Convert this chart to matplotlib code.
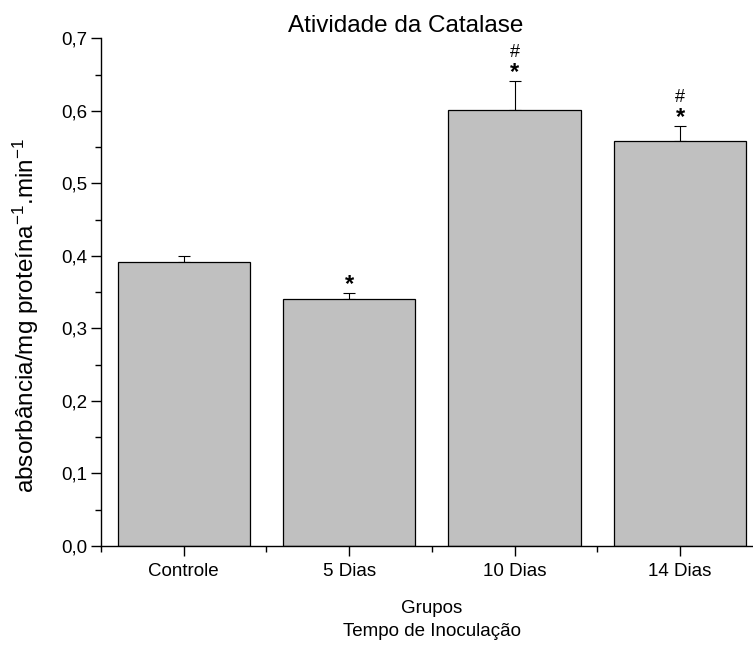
import numpy as np
import matplotlib
matplotlib.use('Agg')
import matplotlib.pyplot as plt
from matplotlib.ticker import MultipleLocator, FixedLocator

plt.rcParams['font.family'] = ['Liberation Sans', 'DejaVu Sans']
plt.rcParams['mathtext.fontset'] = 'custom'
plt.rcParams['mathtext.rm'] = 'Liberation Sans'
plt.rcParams['mathtext.it'] = 'Liberation Sans'

groups = ['Controle', '5 Dias', '10 Dias', '14 Dias']
means = [0.392, 0.341, 0.601, 0.559]
errors = [0.008, 0.008, 0.040, 0.020]
stars = ['', '*', '*', '*']
hashes = ['', '', '#', '#']

fig = plt.figure(figsize=(7.53, 6.46), dpi=100)
# axes run past the right edge, as in the original (cropped) figure
ax = fig.add_axes([0.1341, 0.1548, 0.879, 0.786])

x = np.arange(1, len(groups) + 1)
ax.bar(x, means, width=0.8, color='#c0c0c0', edgecolor='black', linewidth=0.9, zorder=2)
ax.errorbar(x, means, yerr=[np.zeros(len(errors)), errors], fmt='none', ecolor='black',
            elinewidth=0.8, capsize=4.2, capthick=0.8, zorder=1)

for xi, m, e, s, h in zip(x, means, errors, stars, hashes):
    if s:
        ax.annotate(s, xy=(xi, m + e), xytext=(0, 1.5), textcoords='offset points',
                    ha='center', va='baseline', fontsize=17, fontweight='bold')
    if h:
        ax.annotate(h, xy=(xi, m + e), xytext=(0, 17), textcoords='offset points',
                    ha='center', va='baseline', fontsize=13)

ax.set_xlim(0.5, 4.5)
ax.set_ylim(0, 0.7)
ax.set_xticks(x)
ax.set_xticklabels(groups, fontsize=13.5)
ax.xaxis.set_minor_locator(FixedLocator([0.5, 1.5, 2.5, 3.5, 4.5]))
ax.yaxis.set_minor_locator(MultipleLocator(0.05))
yticks = np.arange(0, 0.71, 0.1)
ax.set_yticks(yticks)
ax.set_yticklabels([f'{v:.1f}'.replace('.', ',') for v in yticks], fontsize=13.5)

ax.tick_params(which='major', direction='out', length=7, width=1, pad=3)
ax.tick_params(which='minor', direction='out', length=4, width=1)
ax.tick_params(axis='x', which='major', pad=5)

for side in ['top', 'right']:
    ax.spines[side].set_visible(False)
for side in ['left', 'bottom']:
    ax.spines[side].set_linewidth(1.0)

ax.set_xlabel('Grupos\nTempo de Inoculação', fontsize=13.5, linespacing=1.45, labelpad=15)
ax.set_ylabel('absorbância/mg proteína$^{-1}$.min$^{-1}$', fontsize=17.5, va='center')
ax.yaxis.set_label_coords(-0.113, 0.455)

fig.text(406 / 753, 1 - 32 / 646, 'Atividade da Catalase', ha='center', va='baseline', fontsize=17.5)

fig.savefig('out.png', dpi=100)
